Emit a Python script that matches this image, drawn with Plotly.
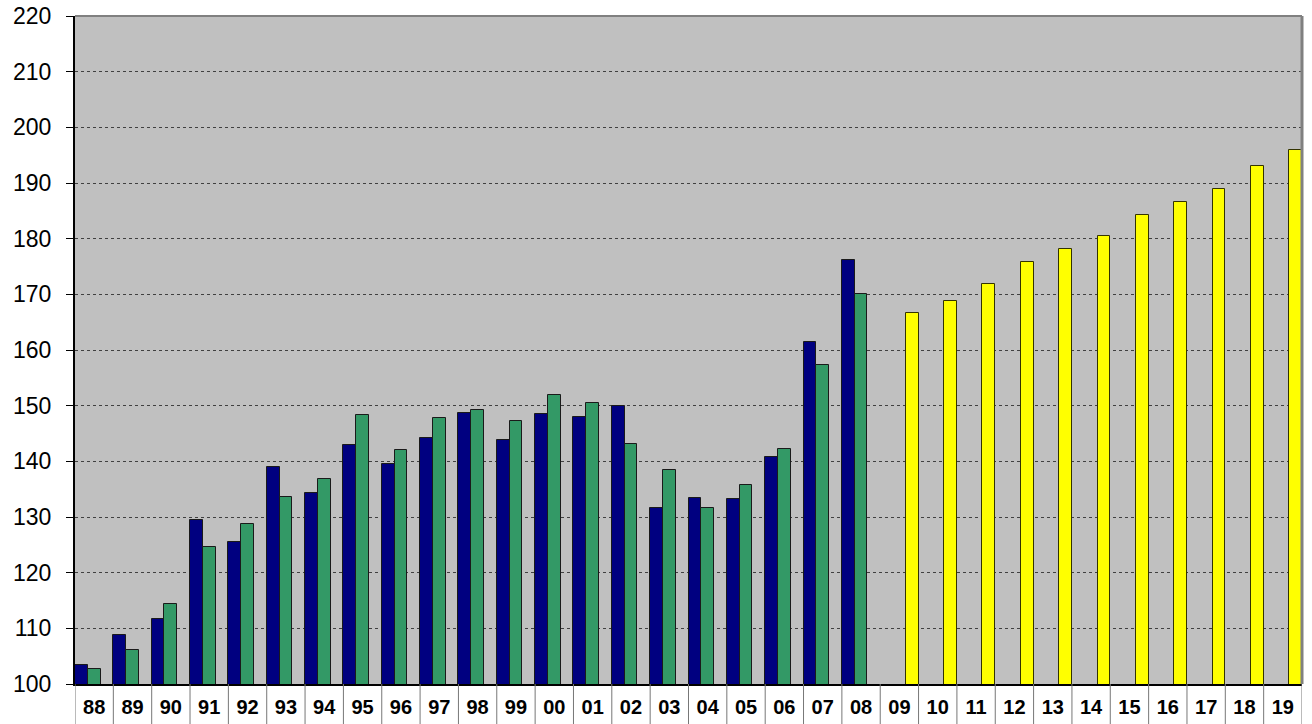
import plotly.graph_objects as go

years = ["88", "89", "90", "91", "92", "93", "94", "95", "96", "97", "98", "99",
         "00", "01", "02", "03", "04", "05", "06", "07", "08",
         "09", "10", "11", "12", "13", "14", "15", "16", "17", "18", "19"]

series_a = [103.5, 108.8, 111.7, 129.5, 125.5, 139.0, 134.3, 143.0, 139.5, 144.2, 148.7, 143.9,
            148.5, 148.0, 150.0, 131.7, 133.5, 133.2, 140.8, 161.5, 176.2] + [None] * 11
series_b = [102.7, 106.1, 114.4, 124.6, 128.7, 133.6, 136.9, 148.3, 142.0, 147.8, 149.2, 147.2,
            151.9, 150.4, 143.2, 138.4, 131.7, 135.7, 142.3, 157.3, 170.1] + [None] * 11
forecast = [None] * 21 + [166.6, 168.8, 171.9, 175.8, 178.1, 180.4, 184.2, 186.5, 189.0, 193.1, 195.9]

y_ticks = list(range(100, 221, 10))

fig = go.Figure()
fig.add_trace(go.Bar(x=years, y=series_a, marker=dict(color="#000080", line=dict(color="#1a1a1a", width=1)), name="A"))
fig.add_trace(go.Bar(x=years, y=series_b, marker=dict(color="#339966", line=dict(color="#1a1a1a", width=1)), name="B"))
fig.add_trace(go.Bar(x=years, y=forecast, marker=dict(color="#FFFF00", line=dict(color="#333300", width=1)), name="C"))

shapes = []
for i in range(len(years) + 1):
    shapes.append(dict(type="line", xref="x", yref="paper", x0=i - 0.5, x1=i - 0.5,
                       y0=0, y1=-0.07, line=dict(color="#777777", width=1)))
# plot-area frame (top and right, gray)
shapes.append(dict(type="line", xref="paper", yref="paper", x0=0, x1=1, y0=1, y1=1,
                   line=dict(color="#808080", width=2)))
shapes.append(dict(type="line", xref="paper", yref="paper", x0=1, x1=1, y0=0, y1=1,
                   line=dict(color="#808080", width=3)))

fig.update_layout(
    width=1312, height=724,
    margin=dict(l=75, r=10, t=16, b=40, autoexpand=False),
    paper_bgcolor="white", plot_bgcolor="#C0C0C0",
    barmode="group", bargap=0, bargroupgap=0,
    showlegend=False,
    shapes=shapes,
    font=dict(family="Liberation Sans, Arial, sans-serif", color="black"),
)
fig.update_xaxes(type="category", automargin=False, showgrid=False, showline=True, linecolor="black", linewidth=2,
                 ticks="", tickfont=dict(size=20, family="Liberation Sans, Arial, sans-serif", weight="bold"),
                 ticklabelstandoff=4, range=[-0.5, len(years) - 0.5])
fig.update_yaxes(range=[100, 220], automargin=False, tickvals=y_ticks, showgrid=True, gridcolor="#404040",
                 griddash="dot", gridwidth=1, showline=True, linecolor="black", linewidth=2,
                 ticks="outside", ticklen=7, tickcolor="black", tickfont=dict(size=23),
                 ticklabelstandoff=10, ticklabeloverflow="allow", zeroline=False)

fig.write_html("out.html", config={"displayModeBar": False},
               post_script="document.body.style.margin='0';document.body.style.overflow='hidden';")
